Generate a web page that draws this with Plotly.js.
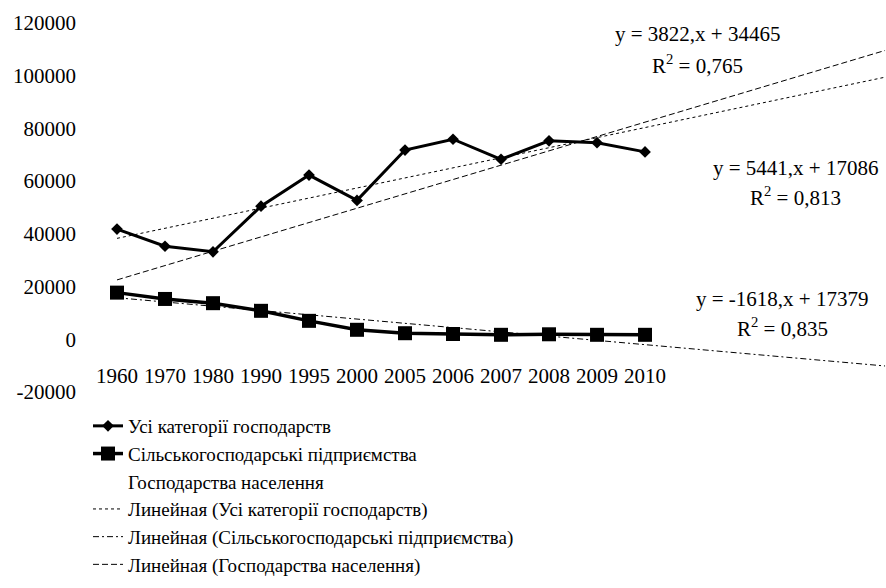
<!DOCTYPE html>
<html>
<head>
<meta charset="utf-8">
<script src="https://cdn.plot.ly/plotly-3.0.1.min.js"></script>
<style>
html,body{margin:0;padding:0;background:#fff;}
#chart{width:886px;height:588px;}
</style>
</head>
<body>
<div id="chart"></div>
<script>
// ---- data ----
var years = ['1960','1970','1980','1990','1995','2000','2005','2006','2007','2008','2009','2010'];
var allCategories = [41800, 35300, 33200, 50500, 62300, 52700, 71800, 75900, 68300, 75300, 74600, 71100];
var agriEnterprises = [17700, 15300, 13700, 10800, 7000, 3600, 2300, 2000, 1700, 1900, 1700, 1700];
var households = [24100, 20000, 19500, 39700, 55300, 49100, 69500, 73900, 66600, 73400, 72900, 69400];
var seriesNames = ['Усі категорії господарств', 'Сільськогосподарські підприємства', 'Господарства населення'];
var trendSlopes = [3822, -1618, 5441];
var trendIntercepts = [34465, 17379, 17086];
var trendR2 = ['0,765', '0,835', '0,813'];
var trendForward = 5; // periods forecast forward
var yTicks = [-20000, 0, 20000, 40000, 60000, 80000, 100000, 120000];

var idx = years.map(function(_, i){ return i + 1; });
var nPts = years.length;
var xEnd = nPts + trendForward;

var FONT = 'Liberation Serif';

function trendLine(k){
  var xs = [1, xEnd];
  return { x: xs, y: xs.map(function(x){ return trendSlopes[k]*x + trendIntercepts[k]; }) };
}

var traces = [];
var dashes = ['dot', '6px,3px,2px,3px', '6px,3px'];
for (var k = 0; k < 3; k++) {
  var t = trendLine(k);
  traces.push({
    x: t.x, y: t.y, mode: 'lines', type: 'scatter',
    name: 'Линейная (' + seriesNames[k] + ')',
    legendrank: 4 + k,
    line: {color: '#000', width: 1, dash: dashes[k]},
    hoverinfo: 'skip'
  });
}
traces.push({
  x: idx, y: allCategories, mode: 'lines+markers', type: 'scatter',
  name: seriesNames[0], legendrank: 1,
  line: {color: '#000', width: 3},
  marker: {symbol: 'diamond', size: 9, color: '#000'}
});
traces.push({
  x: idx, y: agriEnterprises, mode: 'lines+markers', type: 'scatter',
  name: seriesNames[1], legendrank: 2,
  line: {color: '#000', width: 3.5},
  marker: {symbol: 'square', size: 14, color: '#000'}
});
traces.push({
  x: idx, y: households, mode: 'lines', type: 'scatter',
  name: seriesNames[2], legendrank: 3,
  line: {color: 'rgba(0,0,0,0)', width: 2}
});

var L = 93, R = 0, T = 23, B = 196;
var W = 886, H = 588;
var pw = W - L - R, ph = H - T - B;
function px(x){ return (x - L) / pw; }
function py(y){ return (H - B - y) / ph; }

function eqText(k){
  return 'y = ' + trendSlopes[k] + ',x + ' + trendIntercepts[k];
}
var annPos = [
  {eq:[697,34], r2:[697,65]},
  {eq:[782,299], r2:[782,327]},
  {eq:[795,168], r2:[795,196]}
];
var annotations = [];
for (var k = 0; k < 3; k++) {
  annotations.push({xref:'paper', yref:'paper', x: px(annPos[k].eq[0]), y: py(annPos[k].eq[1]),
    xanchor:'center', yanchor:'middle', showarrow:false, text: eqText(k),
    font:{family:FONT, size:21, color:'#000'}});
  annotations.push({xref:'paper', yref:'paper', x: px(annPos[k].r2[0]), y: py(annPos[k].r2[1]),
    xanchor:'center', yanchor:'middle', showarrow:false, text: 'R<sup>2</sup> = ' + trendR2[k],
    font:{family:FONT, size:21, color:'#000'}});
}

var layout = {
  width: W, height: H,
  margin: {l: L, r: R, t: T, b: B, pad: 0, autoexpand: false},
  paper_bgcolor: '#fff', plot_bgcolor: '#fff',
  font: {family: FONT, size: 21, color: '#000'},
  showlegend: true,
  legend: {x: px(88), y: py(407), xanchor: 'left', yanchor: 'top',
           font: {family: FONT, size: 19, color: '#000'}, bgcolor: 'rgba(0,0,0,0)',
           traceorder: 'normal', itemwidth: 30, tracegroupgap: 0},
  xaxis: {range: [0.5, xEnd + 0.02], tickvals: idx, ticktext: years,
          showgrid: false, zeroline: false, showline: false, ticks: '',
          anchor: 'free', position: 20000/140000, ticklabelstandoff: 22,
          tickfont: {family: FONT, size: 21, color: '#000'}, fixedrange: true},
  yaxis: {range: [-20000, 120000], tickvals: yTicks, ticktext: yTicks.map(String),
          showgrid: false, zeroline: false, showline: false, ticks: '',
          ticklabelstandoff: 16,
          tickfont: {family: FONT, size: 21, color: '#000'}, fixedrange: true},
  annotations: annotations
};

Plotly.newPlot('chart', traces, layout, {displayModeBar: false, staticPlot: true});
</script>
</body>
</html>
